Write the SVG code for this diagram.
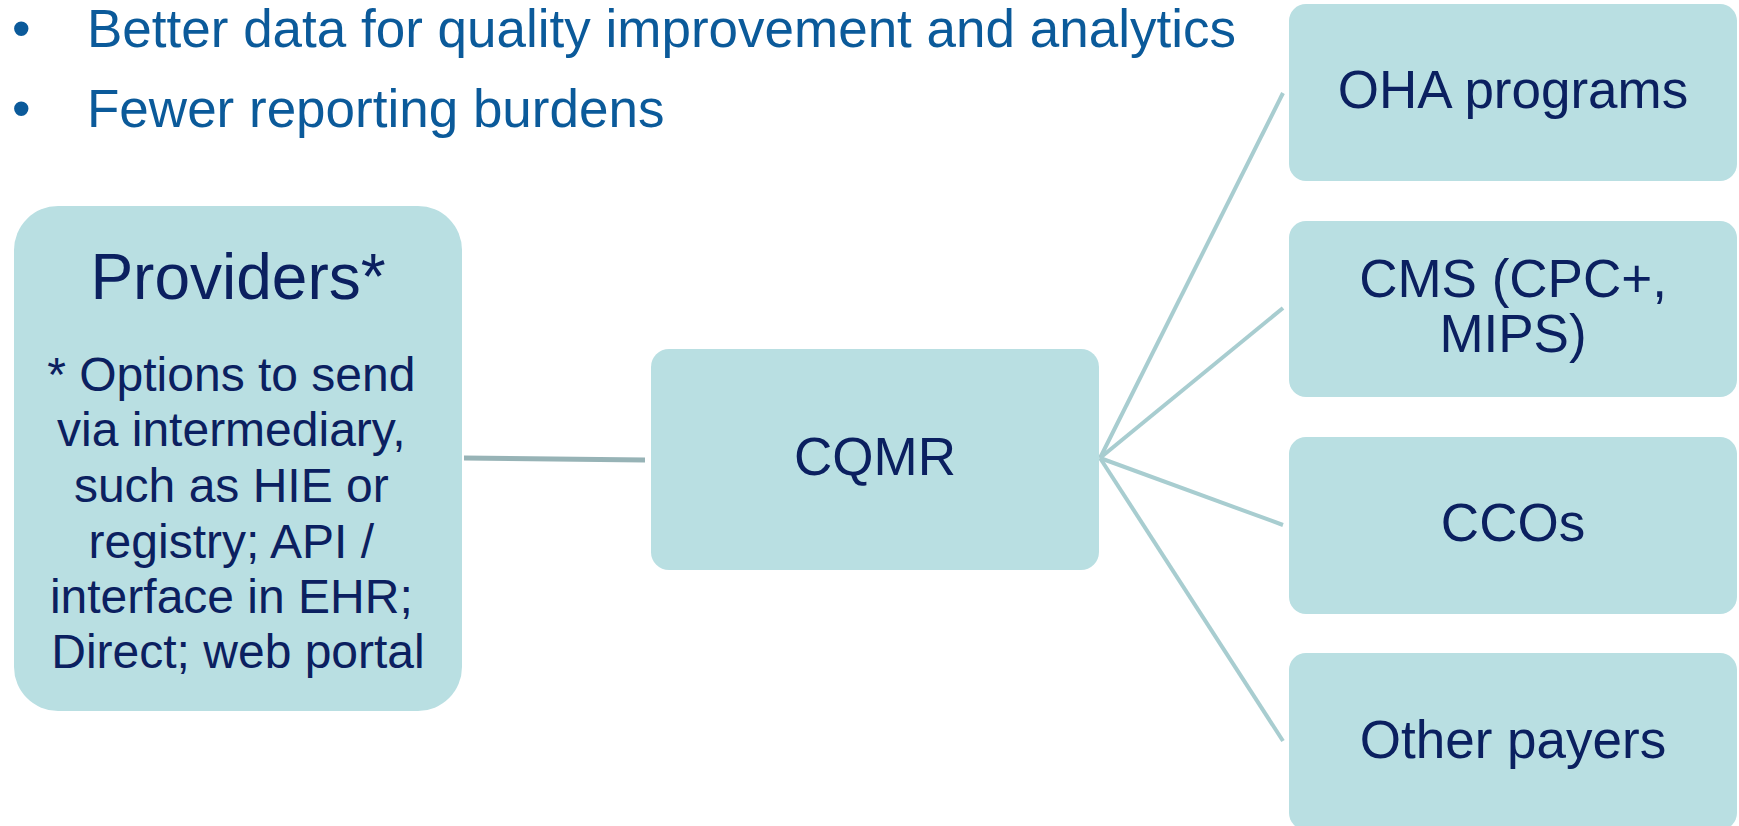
<svg xmlns="http://www.w3.org/2000/svg" width="1739" height="826" viewBox="0 0 1739 826">
<style>
.box{fill:#b9dfe2;}
.nt{font-family:"Liberation Sans",Arial,sans-serif;fill:#0b2060;text-anchor:middle;}
.bt{font-family:"Liberation Sans",Arial,sans-serif;fill:#0b5a9a;font-size:53px;}
.fan{stroke:#a8cdd0;stroke-width:4;fill:none;}
</style>
<rect width="1739" height="826" fill="#ffffff"/>
<g id="bullets">
<text class="bt" x="12" y="47">•</text>
<text class="bt" x="87" y="47">Better data for quality improvement and analytics</text>
<text class="bt" x="12" y="127">•</text>
<text class="bt" x="87" y="127">Fewer reporting burdens</text>
</g>
<g id="connectors">
<line x1="464" y1="458" x2="645" y2="460" stroke="#97b3b6" stroke-width="5"/>
<line class="fan" x1="1100" y1="458" x2="1283" y2="93"/>
<line class="fan" x1="1100" y1="458" x2="1283" y2="308"/>
<line class="fan" x1="1100" y1="458" x2="1283" y2="525"/>
<line class="fan" x1="1100" y1="458" x2="1283" y2="741"/>
</g>
<g id="providers">
<rect class="box" x="14" y="206" width="448" height="505" rx="44" ry="44"/>
<text class="nt" x="238" y="299" font-size="64">Providers*</text>
<text class="nt" x="238" font-size="48">
<tspan x="238" y="391">* Options to send</tspan>
<tspan x="238" y="446">via intermediary,</tspan>
<tspan x="238" y="502">such as HIE or</tspan>
<tspan x="238" y="558">registry; API /</tspan>
<tspan x="238" y="613">interface in EHR;</tspan>
<tspan x="238" y="668">Direct; web portal</tspan>
</text>
</g>
<g id="cqmr">
<rect class="box" x="651" y="349" width="448" height="221" rx="18" ry="18"/>
<text class="nt" x="875" y="475" font-size="53">CQMR</text>
</g>
<g id="oha">
<rect class="box" x="1289" y="4" width="448" height="177" rx="17" ry="17"/>
<text class="nt" x="1513" y="108" font-size="53">OHA programs</text>
</g>
<g id="cms">
<rect class="box" x="1289" y="221" width="448" height="176" rx="17" ry="17"/>
<text class="nt" font-size="53"><tspan x="1513" y="297">CMS (CPC+,</tspan><tspan x="1513" y="352">MIPS)</tspan></text>
</g>
<g id="ccos">
<rect class="box" x="1289" y="437" width="448" height="177" rx="17" ry="17"/>
<text class="nt" x="1513" y="541" font-size="53">CCOs</text>
</g>
<g id="other">
<rect class="box" x="1289" y="653" width="448" height="177" rx="17" ry="17"/>
<text class="nt" x="1513" y="758" font-size="53">Other payers</text>
</g>
</svg>
